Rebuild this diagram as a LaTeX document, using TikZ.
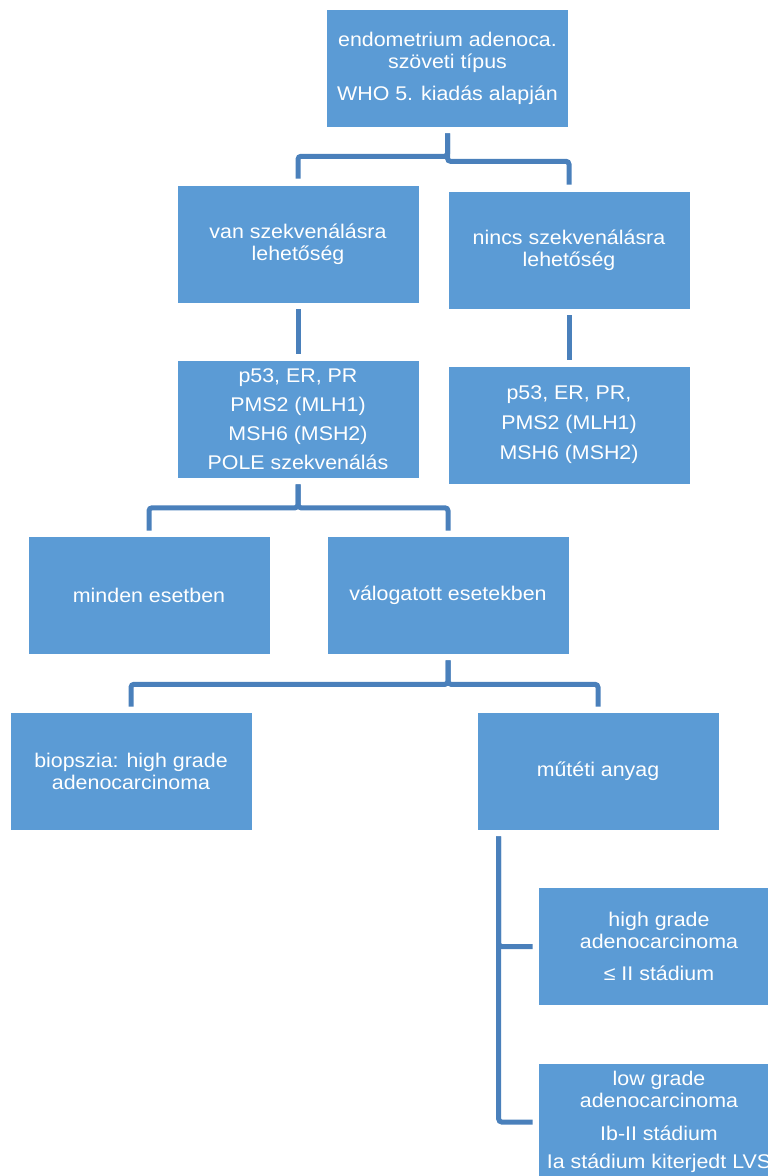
\documentclass[tikz,border=0pt]{standalone}
\usepackage{fontspec}
\setmainfont{Liberation Sans}[FakeStretch=1.08]
\usetikzlibrary{calc}
\definecolor{boxblue}{HTML}{5B9BD5}
\definecolor{linkblue}{HTML}{4A80BB}
\tikzset{
  box/.style={rectangle, fill=boxblue, draw=white, line width=0.6pt,
    minimum width=242, minimum height=118, inner sep=0pt, text=white,
    align=center, font=\fontsize{19.8}{22}\selectfont},
  link/.style={draw=linkblue, line width=5, rounded corners=3},
}
\begin{document}
\begin{tikzpicture}[x=1pt,y=-1pt]
\useasboundingbox (0,0) rectangle (768,1176);
\clip (0,0) rectangle (768,1176);

\node[box] (n1) at (447.5,68) {endometrium adenoca.\\ szöveti típus\\[10pt] WHO 5. kiadás alapján};
\node[box] (n2) at (298,244) {van szekvenálásra\\ lehetőség};
\node[box] (n3) at (569,250) {nincs szekvenálásra\\ lehetőség};
\node[box] (n4) at (298,419) {p53, ER, PR\\[7pt] PMS2 (MLH1)\\[7pt] MSH6 (MSH2)\\[7pt] POLE szekvenálás};
\node[box] (n5) at (569,425) {p53, ER, PR,\\[8pt] PMS2 (MLH1)\\[8pt] MSH6 (MSH2)};
\node[box] (n6) at (149,595) {minden esetben};
\node[box] (n7) at (448,595) {válogatott esetekben};
\node[box] (n8) at (131,771) {biopszia: high grade\\ adenocarcinoma};
\node[box] (n9) at (598,771) {műtéti anyag};
\node[box] (n10) at (659,946.5) {high grade\\ adenocarcinoma\\[10pt] ≤ II stádium};
\node[box] (n11) at (659,1122) {low grade\\ adenocarcinoma\\[11pt] Ib-II stádium\\[6pt] Ia stádium kiterjedt LVS};

\draw[link] ($(n1.south)+(0,6)$) -- ++(0,23) -| ($(n2.north)+(0,-6)$);
\draw[link] ($(n1.south)+(0,6)$) -- ++(0,28) -| ($(n3.north)+(0,-6)$);
\draw[link] ($(n2.south)+(0,6)$) -- ($(n4.north)+(0,-6)$);
\draw[link] ($(n3.south)+(0,6)$) -- ($(n5.north)+(0,-6)$);
\draw[link] ($(n4.south)+(0,6)$) -- ++(0,23.5) -| ($(n6.north)+(0,-5)$);
\draw[link] ($(n4.south)+(0,6)$) -- ++(0,23.5) -| ($(n7.north)+(0,-5)$);
\draw[link] ($(n7.south)+(0,6)$) -- ++(0,24) -| ($(n8.north)+(0,-5)$);
\draw[link] ($(n7.south)+(0,6)$) -- ++(0,24) -| ($(n9.north)+(0,-5)$);
\draw[link] ($(n9.south west)+(22,6)$) |- ($(n10.west)+(-5,0)$);
\draw[link] ($(n9.south west)+(22,6)$) |- ($(n11.west)+(-5,0)$);
\end{tikzpicture}
\end{document}
